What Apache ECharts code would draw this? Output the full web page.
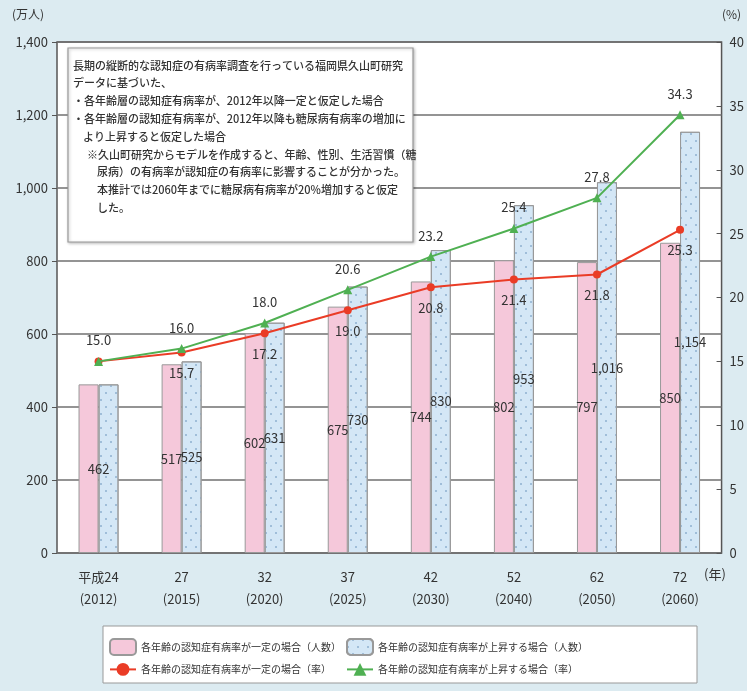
<!DOCTYPE html>
<html>
<head>
<meta charset="utf-8">
<script src="https://cdn.jsdelivr.net/npm/echarts@6/dist/echarts.min.js"></script>
<style>
  html, body { margin: 0; padding: 0; background: #dcebf1; }
  #chart { width: 747px; height: 691px; }
</style>
</head>
<body>
<div id="chart"></div>
<script>
// Projected number of dementia patients (10,000 persons) and prevalence rate (%)
const categories = ['平成24\n(2012)', '27\n(2015)', '32\n(2020)', '37\n(2025)', '42\n(2030)', '52\n(2040)', '62\n(2050)', '72\n(2060)'];
const countConstant = [462, 517, 602, 675, 744, 802, 797, 850];
const countRising = [462, 525, 631, 730, 830, 953, 1016, 1154];
const rateConstant = [15.0, 15.7, 17.2, 19.0, 20.8, 21.4, 21.8, 25.3];
const rateRising = [15.0, 16.0, 18.0, 20.6, 23.2, 25.4, 27.8, 34.3];
const leftTicks = [0, 1400, 200];
const rightTicks = [0, 40, 5];

const names = [
  '各年齢の認知症有病率が一定の場合（人数）',
  '各年齢の認知症有病率が上昇する場合（人数）',
  '各年齢の認知症有病率が一定の場合（率）',
  '各年齢の認知症有病率が上昇する場合（率）'
];

const noteLines = [
  ['長期の縦断的な認知症の有病率調査を行っている福岡県久山町研究', 0],
  ['データに基づいた、', 0],
  ['・各年齢層の認知症有病率が、2012年以降一定と仮定した場合', 0],
  ['・各年齢層の認知症有病率が、2012年以降も糖尿病有病率の増加に', 0],
  ['より上昇すると仮定した場合', 10],
  ['※久山町研究からモデルを作成すると、年齢、性別、生活習慣（糖', 14],
  ['尿病）の有病率が認知症の有病率に影響することが分かった。', 24],
  ['本推計では2060年までに糖尿病有病率が20%増加すると仮定', 24],
  ['した。', 24]
];

const FONT = '"Noto Sans CJK JP", "Noto Sans", sans-serif';
const fmtComma = v => v.toLocaleString('en-US');

const chart = echarts.init(document.getElementById('chart'), null, { renderer: 'canvas' });

// first group shares a single value label placed between the two bars
const constData = countConstant.map((v, i) => i === 0
  ? { value: v, label: { offset: [10, 0] } } : v);
const risingData = countRising.map((v, i) => i === 0
  ? { value: v, label: { show: false } } : v);
const rateConstData = rateConstant.map((v, i) => i === 0
  ? { value: v, label: { show: false } } : v);

const noteGraphics = noteLines.map((ln, i) => ({
  type: 'text',
  left: 73 + ln[1],
  top: 60 + i * 17.8,
  z: 101,
  style: { text: ln[0], font: '500 11px ' + FONT, fill: '#333' }
}));

chart.setOption({
  backgroundColor: '#dcebf1',
  textStyle: { fontFamily: FONT },
  grid: {
    left: 57, right: 20, top: 42, bottom: 138,
    show: true, backgroundColor: '#ffffff', borderColor: '#555', borderWidth: 1.5
  },
  legend: [
    {
      data: [names[0], names[2]],
      orient: 'vertical', left: 104, top: 633,
      itemWidth: 26, itemHeight: 16, itemGap: 7,
      textStyle: { fontSize: 10, color: '#333', fontFamily: FONT }
    },
    {
      data: [names[1], names[3]],
      orient: 'vertical', left: 341, top: 633,
      itemWidth: 26, itemHeight: 16, itemGap: 7,
      textStyle: { fontSize: 10, color: '#333', fontFamily: FONT }
    }
  ],
  xAxis: {
    type: 'category',
    data: categories,
    axisLine: { show: false },
    axisTick: { show: false },
    axisLabel: { color: '#333', fontSize: 13, lineHeight: 22, margin: 13, fontFamily: FONT }
  },
  yAxis: [
    {
      type: 'value', min: leftTicks[0], max: leftTicks[1], interval: leftTicks[2],
      axisLine: { show: false },
      axisTick: { show: true, length: 5, lineStyle: { color: '#555' } },
      axisLabel: { color: '#333', fontSize: 13, margin: 9, formatter: v => fmtComma(v) },
      splitLine: { lineStyle: { color: '#707070', width: 1.5 } }
    },
    {
      type: 'value', min: rightTicks[0], max: rightTicks[1], interval: rightTicks[2],
      axisLine: { show: false },
      axisTick: { show: true, inside: true, length: 5, lineStyle: { color: '#555' } },
      axisLabel: { color: '#333', fontSize: 13, margin: 8 },
      splitLine: { show: false }
    }
  ],
  series: [
    {
      name: names[0], type: 'bar', yAxisIndex: 0,
      data: constData, barWidth: 20, barGap: '0%',
      itemStyle: { color: '#f5c8da', borderColor: '#999', borderWidth: 1 },
      label: { show: true, position: 'inside', color: '#333', fontSize: 13, formatter: p => fmtComma(p.value) },
      z: 2
    },
    {
      name: names[1], type: 'bar', yAxisIndex: 0,
      data: risingData, barWidth: 20,
      itemStyle: {
        color: '#d4e7f6', borderColor: '#999', borderWidth: 1,
        decal: {
          symbol: 'circle', symbolSize: 1, color: '#8fb1cf',
          dashArrayX: [[2, 8], [0, 5, 2, 3]], dashArrayY: [2, 5]
        }
      },
      label: { show: true, position: 'inside', color: '#333', fontSize: 13, formatter: p => fmtComma(p.value) },
      z: 2
    },
    {
      name: names[2], type: 'line', yAxisIndex: 1,
      data: rateConstData,
      symbol: 'circle', symbolSize: 8,
      lineStyle: { color: '#ea3c26', width: 2 },
      itemStyle: { color: '#ea3c26' },
      label: { show: true, position: 'bottom', distance: 10, color: '#333', fontSize: 13, formatter: p => p.value.toFixed(1) },
      z: 5
    },
    {
      name: names[3], type: 'line', yAxisIndex: 1,
      data: rateRising,
      symbol: 'triangle', symbolSize: 9,
      lineStyle: { color: '#4fb052', width: 2 },
      itemStyle: { color: '#4fb052' },
      label: { show: true, position: 'top', distance: 10, color: '#333', fontSize: 13, formatter: p => p.value.toFixed(1) },
      z: 6
    }
  ],
  graphic: [
    { type: 'text', left: 12, top: 8, style: { text: '(万人)', font: '12px ' + FONT, fill: '#333' } },
    { type: 'text', left: 722, top: 8, style: { text: '(%)', font: '12px ' + FONT, fill: '#333' } },
    { type: 'text', left: 704, top: 568, style: { text: '(年)', font: '13px ' + FONT, fill: '#333' } },
    {
      type: 'rect', z: 100,
      shape: { x: 68, y: 48, width: 345, height: 194 },
      style: { fill: '#fff', stroke: '#9a9a9a', lineWidth: 1.2, shadowBlur: 3, shadowColor: 'rgba(0,0,0,0.25)', shadowOffsetX: 1, shadowOffsetY: 1 }
    },
    ...noteGraphics,
    {
      type: 'rect', z: 0,
      shape: { x: 103, y: 626, width: 594, height: 57 },
      style: { fill: '#fff', stroke: '#999', lineWidth: 1 }
    }
  ]
});
</script>
</body>
</html>
